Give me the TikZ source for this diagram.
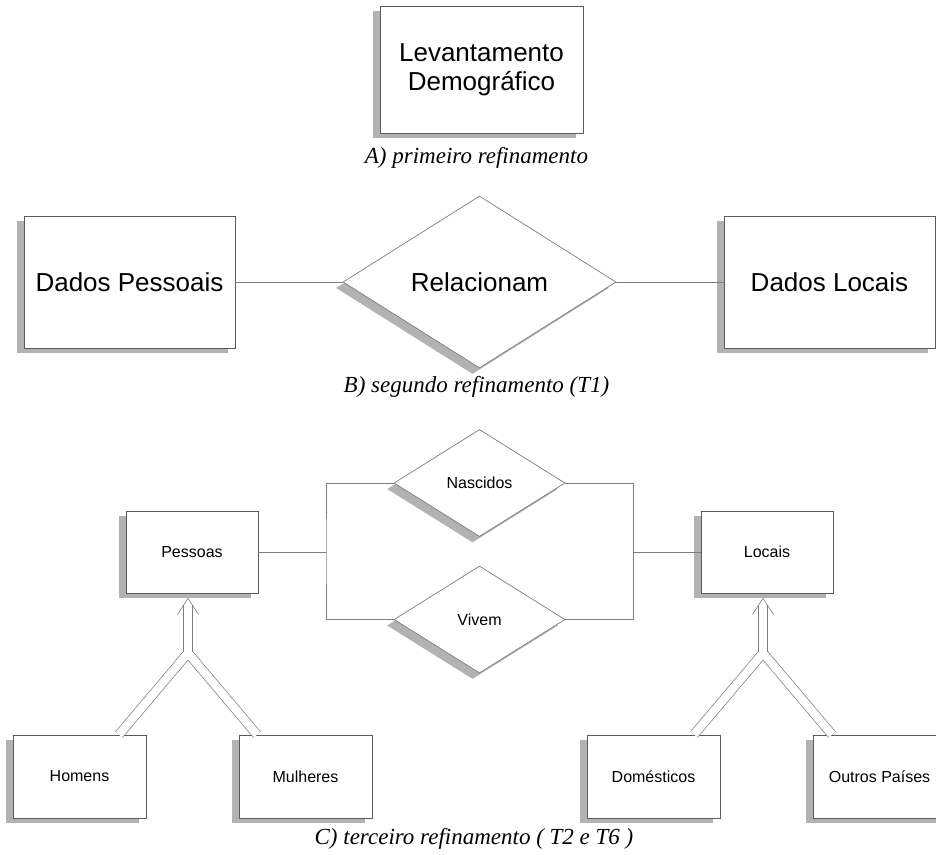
\documentclass[tikz,border=0pt]{standalone}
\usepackage{fontspec}
\setmainfont{Liberation Serif}
\newfontfamily\erfont{Liberation Sans}
\usetikzlibrary{shapes.geometric,shadows}

\definecolor{boxline}{HTML}{5A5A5A}
\definecolor{linkgray}{HTML}{7C7C7C}
\definecolor{shadowgray}{HTML}{B2B2B2}

\begin{document}
\begin{tikzpicture}[
        x=1pt,
        y=-1pt,
        entity/.style={
            draw=boxline,
            fill=white,
            line width=0.8pt,
            inner sep=0pt,
            align=center,
            drop shadow={shadow xshift=-7pt, shadow yshift=-5pt,
                         fill=shadowgray, opacity=1}
            },
        relation/.style={
            diamond,
            draw=linkgray,
            fill=white,
            line width=0.7pt,
            inner sep=0pt,
            drop shadow={shadow xshift=-7pt, shadow yshift=-6pt,
                         fill=shadowgray, opacity=1}
            },
        big/.style={font=\erfont\fontsize{26}{29}\selectfont},
        small/.style={font=\erfont\fontsize{16}{19}\selectfont},
        link/.style={draw=linkgray, line width=0.7pt},
        isa/.style={
            draw=linkgray,
            line width=0.7pt,
            double=white,
            double distance=8.3pt
            },
        caption/.style={
            anchor=base,
            font=\itshape\fontsize{23}{27}\selectfont
            }
        ]

\clip (0,0) rectangle (936,854);

%first refinement
\node[entity, big, minimum width=203pt, minimum height=127pt]
        (lev) at (481.5,69.5) {Levantamento\\Demogr\'afico};
\node[caption] (capA) at (476.5,163) {A) primeiro refinamento};

%second refinement
\node[entity, big, minimum width=211pt, minimum height=132pt]
        (dpes) at (129.5,282) {Dados Pessoais};
\node[relation, big, minimum width=273pt, minimum height=172pt]
        (relac) at (479.5,282) {Relacionam};
\node[entity, big, minimum width=211pt, minimum height=132pt]
        (dloc) at (829.5,282) {Dados Locais};
\draw[link] (dpes.east) -- (relac.west);
\draw[link] (relac.east) -- (dloc.west);
\node[caption] (capB) at (476.5,392) {B) segundo refinamento (T1)};

%third refinement: entities
\node[entity, small, minimum width=132pt, minimum height=82pt]
        (pes) at (192,552) {Pessoas};
\node[entity, small, minimum width=132pt, minimum height=82pt]
        (loc) at (767,552) {Locais};
\foreach \name/\x/\txt in {hom/79.5/Homens,
                           mul/305.5/Mulheres,
                           dom/653.5/Dom\'esticos,
                           out/879.5/Outros Pa\'{\i}ses}
\node[entity, small, minimum width=133pt, minimum height=83pt]
        (\name) at (\x,776.5) {\txt};

%relationships
\node[relation, small, minimum width=171pt, minimum height=107pt]
        (nas) at (479.5,483) {Nascidos};
\node[relation, small, minimum width=171pt, minimum height=107pt]
        (viv) at (479.5,619.5) {Vivem};
\coordinate (jl) at (326,552);
\coordinate (jr) at (633,552);
\draw[link] (nas.west) -| (jl) |- (viv.west);
\draw[link] (nas.east) -| (jr) |- (viv.east);
\draw[link] (pes.east) -- (jl);
\draw[link] (jr) -- (loc.west);

%specializations
\foreach \pa/\ca/\cb/\fx in {pes/hom/mul/188, loc/dom/out/763}
{
    \coordinate (apex) at (\fx,653);
    \coordinate (ja) at ([xshift=-69pt]apex);
    \coordinate (jb) at ([xshift=69pt]apex);
    \coordinate (tip0) at (apex |- \pa.south);
    \coordinate (tip) at ([yshift=-5pt]tip0);
    \draw[isa] (ja |- \ca.north) -- (apex) -- (jb |- \cb.north);
    \draw[isa] ([yshift=1.5pt]apex) -- ([yshift=-7pt]tip);
    \draw[link, line width=0.6pt]
        ([shift={(-10.5pt,-16pt)}]tip) -- (tip) -- ([shift={(10.5pt,-16pt)}]tip);
}

\node[caption] (capC) at (474,844) {C) terceiro refinamento ( T2 e T6 )};

\end{tikzpicture}
\end{document}
